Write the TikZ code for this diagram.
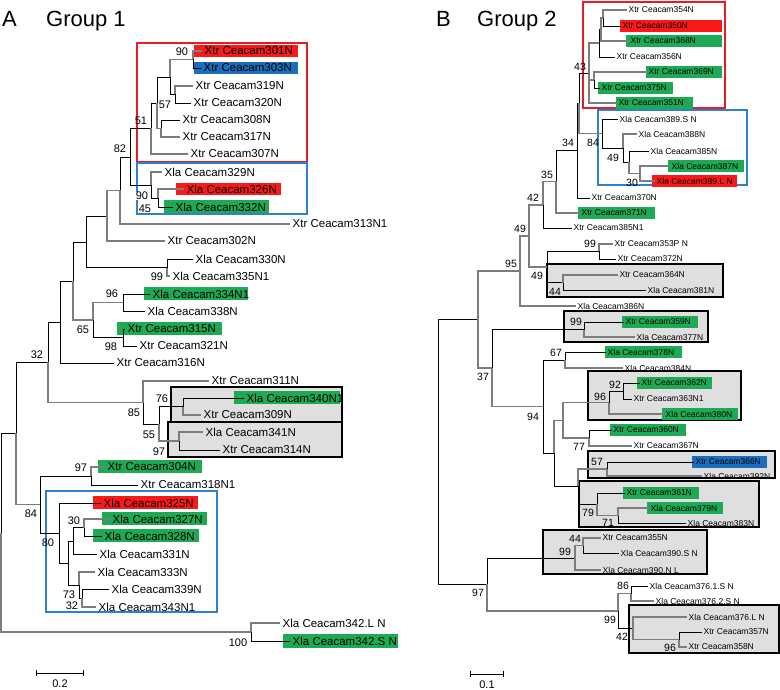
\documentclass[tikz,border=0pt]{standalone}
\usepackage{fontspec}
\setmainfont{Liberation Sans}
\definecolor{boxred}{RGB}{228,30,36}
\definecolor{boxblue}{RGB}{45,130,205}
\definecolor{hlred}{RGB}{250,25,25}
\definecolor{hlblue}{RGB}{25,110,190}
\definecolor{hlgreen}{RGB}{30,170,85}
\definecolor{brgray}{RGB}{125,125,125}
\tikzset{
  br/.style={draw=black, line width=0.85pt},
  gbr/.style={draw=brgray, line width=1.1pt},
  leafA/.style={anchor=west, inner sep=2.5pt, font=\fontsize{11.5}{12}\selectfont},
  leafB/.style={anchor=west, inner sep=2pt, font=\fontsize{8.5}{9}\selectfont},
  bsA/.style={inner sep=0.5pt, font=\fontsize{11}{12}\selectfont},
  bsB/.style={inner sep=0.5pt, font=\fontsize{10.5}{11}\selectfont},
  redbox/.style={draw=boxred, line width=2pt},
  bluebox/.style={draw=boxblue, line width=2pt},
  greybox/.style={draw=black, fill=gray!25, line width=1.8pt},
  title/.style={anchor=base west, inner sep=0pt, font=\fontsize{22}{24}\selectfont}
}
\begin{document}
\begin{tikzpicture}[x=1pt, y=-1pt]
\useasboundingbox (0,0) rectangle (780,690);
% titles
\node[title] (tA) at (2,27) {A};
\node[title] (tG1) at (46,27) {Group 1};
\node[title] (tB) at (436,27) {B};
\node[title] (tG2) at (477,27) {Group 2};
% boxes, group 1
\draw[redbox] (137,43) rectangle (307,162);
\draw[bluebox] (137,163) rectangle (307,214);
\draw[greybox] (171,387) rectangle (342,422);
\draw[greybox] (168,422) rectangle (342,457);
\draw[bluebox] (46,491) rectangle (217,612);
% boxes, group 2
\draw[redbox] (583,2) rectangle (725,108);
\draw[bluebox] (598,110) rectangle (747,185);
\draw[greybox] (547,264) rectangle (723,297);
\draw[greybox] (564,311) rectangle (708,342);
\draw[greybox] (588,371) rectangle (741,420);
\draw[greybox] (588,451) rectangle (775,478);
\draw[greybox] (579,481) rectangle (759,527);
\draw[greybox] (543,530) rectangle (707,574);
\draw[greybox] (629,605) rectangle (779,653);
% highlights, group 1
\fill[hlred] (194,45) rectangle (298,57);
\fill[hlblue] (194,62) rectangle (298,74);
\fill[hlred] (176,183) rectangle (281,195);
\fill[hlgreen] (164,200) rectangle (269,213);
\fill[hlgreen] (144,287) rectangle (248,300);
\fill[hlgreen] (117,322) rectangle (222,335);
\fill[hlgreen] (234,391) rectangle (340,404);
\fill[hlgreen] (98,460) rectangle (202,473);
\fill[hlred] (93,496) rectangle (198,509);
\fill[hlgreen] (102,512) rectangle (207,525);
\fill[hlgreen] (93,529) rectangle (199,542);
\fill[hlgreen] (283,634) rectangle (398,648);
% highlights, group 2
\fill[hlred] (620,20) rectangle (722,32);
\fill[hlgreen] (626,35) rectangle (722,47);
\fill[hlgreen] (646,66) rectangle (722,78);
\fill[hlgreen] (598,82) rectangle (673,94);
\fill[hlgreen] (616,97) rectangle (693,109);
\fill[hlgreen] (668,160) rectangle (744,172);
\fill[hlred] (652,175) rectangle (737,187);
\fill[hlgreen] (578,207) rectangle (655,219);
\fill[hlgreen] (622,316) rectangle (698,328);
\fill[hlgreen] (605,346) rectangle (682,358);
\fill[hlgreen] (637,377) rectangle (712,389);
\fill[hlgreen] (662,408) rectangle (738,420);
\fill[hlgreen] (610,424) rectangle (686,436);
\fill[hlblue] (692,456) rectangle (767,468);
\fill[hlgreen] (623,487) rectangle (699,499);
\fill[hlgreen] (647,502) rectangle (723,514);
% leaves, group 1
\node[leafA] (l301) at (202,51) {Xtr Ceacam301N};
\node[leafA] (l303) at (201,68) {Xtr Ceacam303N};
\node[leafA] (l319) at (193,86) {Xtr Ceacam319N};
\node[leafA] (l320) at (191,103) {Xtr Ceacam320N};
\node[leafA] (l308) at (180,120) {Xtr Ceacam308N};
\node[leafA] (l317) at (180,137) {Xtr Ceacam317N};
\node[leafA] (l307) at (188,154) {Xtr Ceacam307N};
\node[leafA] (l329) at (162,172) {Xla Ceacam329N};
\node[leafA] (l326) at (184,189) {Xla Ceacam326N};
\node[leafA] (l332) at (173,207) {Xla Ceacam332N};
\node[leafA] (l313) at (290,224) {Xtr Ceacam313N1};
\node[leafA] (l302) at (165,241) {Xtr Ceacam302N};
\node[leafA] (l330) at (193,259) {Xla Ceacam330N};
\node[leafA] (l335) at (170,276) {Xla Ceacam335N1};
\node[leafA] (l334) at (150,294) {Xla Ceacam334N1};
\node[leafA] (l338) at (145,311) {Xla Ceacam338N};
\node[leafA] (l315) at (125,329) {Xtr Ceacam315N};
\node[leafA] (l321) at (137,346) {Xtr Ceacam321N};
\node[leafA] (l316) at (114,363) {Xtr Ceacam316N};
\node[leafA] (l311) at (209,381) {Xtr Ceacam311N};
\node[leafA] (l340) at (244,398) {Xla Ceacam340N1};
\node[leafA] (l309) at (201,415) {Xtr Ceacam309N};
\node[leafA] (l341) at (203,432) {Xla Ceacam341N};
\node[leafA] (l314) at (220,450) {Xtr Ceacam314N};
\node[leafA] (l304) at (105,467) {Xtr Ceacam304N};
\node[leafA] (l318) at (138,485) {Xtr Ceacam318N1};
\node[leafA] (l325) at (101,503) {Xla Ceacam325N};
\node[leafA] (l327) at (110,519) {Xla Ceacam327N};
\node[leafA] (l328) at (102,536) {Xla Ceacam328N};
\node[leafA] (l331) at (97,554) {Xla Ceacam331N};
\node[leafA] (l333) at (95,572) {Xla Ceacam333N};
\node[leafA] (l339) at (109,589) {Xla Ceacam339N};
\node[leafA] (l343) at (96,607) {Xla Ceacam343N1};
\node[leafA] (l342L) at (280,623) {Xla Ceacam342.L N};
\node[leafA] (l342S) at (290,641) {Xla Ceacam342.S N};
% leaves, group 2
\node[leafB] (r354) at (626.5,10) {Xtr Ceacam354N};
\node[leafB] (r350) at (620.5,26) {Xtr Ceacam350N};
\node[leafB] (r368) at (628.5,41) {Xtr Ceacam368N};
\node[leafB] (r356) at (614.5,57) {Xtr Ceacam356N};
\node[leafB] (r369) at (646.5,72) {Xtr Ceacam369N};
\node[leafB] (r375) at (599.5,88) {Xtr Ceacam375N};
\node[leafB] (r351) at (616.5,103) {Xtr Ceacam351N};
\node[leafB] (r389S) at (617.5,119) {Xla Ceacam389.S N};
\node[leafB] (r388) at (636.5,134) {Xla Ceacam388N};
\node[leafB] (r385) at (648.5,151) {Xla Ceacam385N};
\node[leafB] (r387) at (669.5,166) {Xla Ceacam387N};
\node[leafB] (r389L) at (654.5,181) {Xla Ceacam389.L N};
\node[leafB] (r370) at (589.5,198) {Xtr Ceacam370N};
\node[leafB] (r371) at (579.5,213) {Xtr Ceacam371N};
\node[leafB] (r385N) at (571.5,228) {Xtr Ceacam385N1};
\node[leafB] (r353) at (612.5,244) {Xtr Ceacam353P N};
\node[leafB] (r372) at (615.5,259) {Xtr Ceacam372N};
\node[leafB] (r364) at (617.5,275) {Xtr Ceacam364N};
\node[leafB] (r381) at (645.5,290) {Xla Ceacam381N};
\node[leafB] (r386) at (575.5,306) {Xla Ceacam386N};
\node[leafB] (r359) at (623.5,322) {Xtr Ceacam359N};
\node[leafB] (r377) at (634.5,337) {Xla Ceacam377N};
\node[leafB] (r378) at (605.5,352) {Xla Ceacam378N};
\node[leafB] (r384) at (622.5,368) {Xla Ceacam384N};
\node[leafB] (r362) at (639.5,383) {Xtr Ceacam362N};
\node[leafB] (r363) at (631.5,399) {Xtr Ceacam363N1};
\node[leafB] (r380) at (663.5,414) {Xla Ceacam380N};
\node[leafB] (r360) at (611.5,430) {Xtr Ceacam360N};
\node[leafB] (r367) at (631.5,446) {Xtr Ceacam367N};
\node[leafB] (r366) at (693.5,462) {Xtr Ceacam366N};
\node[leafB] (r392) at (701.5,476) {Xla Ceacam392N};
\node[leafB] (r361) at (624.5,493) {Xtr Ceacam361N};
\node[leafB] (r379) at (648.5,508) {Xla Ceacam379N};
\node[leafB] (r383) at (685.5,523) {Xla Ceacam383N};
\node[leafB] (r355) at (600.5,538) {Xtr Ceacam355N};
\node[leafB] (r390S) at (618.5,553) {Xla Ceacam390.S N};
\node[leafB] (r390L) at (600.5,570) {Xla Ceacam390.N L};
\node[leafB] (r3761) at (647.5,586) {Xla Ceacam376.1.S N};
\node[leafB] (r3762) at (653.5,601) {Xla Ceacam376.2.S N};
\node[leafB] (r376L) at (686.5,617) {Xla Ceacam376.L N};
\node[leafB] (r357) at (701.5,632) {Xtr Ceacam357N};
\node[leafB] (r358) at (686.5,647) {Xtr Ceacam358N};
% inner nodes, group 1
\coordinate (a1) at (1,532.5);
\coordinate (a16) at (16,433);
\coordinate (a48) at (48,362);
\coordinate (a60) at (60,322);
\coordinate (a73) at (73,281);
\coordinate (a86) at (86,242);
\coordinate (a107) at (107,216);
\coordinate (a120) at (120,190.5);
\coordinate (a130) at (130,157);
\coordinate (a151) at (151,128.5);
\coordinate (a157) at (157,103);
\coordinate (a170) at (170,77);
\coordinate (a193) at (193,59.5);
\coordinate (a175) at (175,94.5);
\coordinate (a161) at (161,128.5);
\coordinate (a151b) at (151,185);
\coordinate (a158) at (158,198);
\coordinate (a167) at (167,267.5);
\coordinate (a93) at (93,320);
\coordinate (a123) at (123,302.5);
\coordinate (a123b) at (123,337.5);
\coordinate (a143) at (143,402.5);
\coordinate (a159) at (159,424);
\coordinate (a183) at (183,406.5);
\coordinate (a179) at (179,441);
\coordinate (a40) at (40,504.5);
\coordinate (a91) at (91,476);
\coordinate (a59) at (59,533);
\coordinate (a68) at (68,563);
\coordinate (a73b) at (73,541);
\coordinate (a84) at (84,527.5);
\coordinate (a79) at (79,585);
\coordinate (a82) at (82,598);
\coordinate (a251) at (251,632);
% inner nodes, group 2
\coordinate (m438) at (438,451.5);
\coordinate (m478) at (478,319.5);
\coordinate (m520) at (520,271);
\coordinate (m529) at (529,236);
\coordinate (m543) at (543,205);
\coordinate (m556) at (556,181.5);
\coordinate (m577) at (577,150);
\coordinate (m579) at (579,103);
\coordinate (m589) at (589,73);
\coordinate (m599) at (599,43);
\coordinate (m601) at (601,29.5);
\coordinate (m603) at (603,18);
\coordinate (m594) at (594,80);
\coordinate (m602) at (602,133.5);
\coordinate (m623) at (623,148);
\coordinate (m629) at (629,162);
\coordinate (m640) at (640,173.5);
\coordinate (m547) at (547,267);
\coordinate (m599b) at (599,251.5);
\coordinate (m563) at (563,282.5);
\coordinate (m492) at (492,368);
\coordinate (m584) at (584,329.5);
\coordinate (m543b) at (543,406.5);
\coordinate (m565) at (565,360);
\coordinate (m554) at (554,453);
\coordinate (m563b) at (563,420.5);
\coordinate (m609) at (609,402.5);
\coordinate (m623b) at (623,391);
\coordinate (m589b) at (589,438);
\coordinate (m578) at (578,486);
\coordinate (m607) at (607,469);
\coordinate (m597) at (597,504);
\coordinate (m618) at (618,515.5);
\coordinate (m487) at (487,584);
\coordinate (m575) at (575,558);
\coordinate (m583) at (583,545.5);
\coordinate (m618b) at (618,611);
\coordinate (m631) at (631,593.5);
\coordinate (m633) at (633,628);
\coordinate (m679) at (679,639.5);
% branches, group 1
\draw[br] (a193) |- (l303.west) (a170) |- (a175) (a175) |- (l320.west)
  (a157) |- (a170) (a161) |- (l308.west) (a151) |- (a157) (a130) |- (a151)
  (a130) |- (a151b) (a151b) |- (a158) (a158) |- (l332.west) (a120) |- (a130)
  (a86) |- (a107) (a86) |- (a167) (a167) |- (l330.west) (a73) |- (a86)
  (a93) |- (a123b) (a123) |- (l334.west) (a123) |- (l338.west) (a123b) |- (l315.west)
  (a123b) |- (l321.west) (a60) |- (a73) (a60) |- (l316.west) (a48) |- (a60)
  (a143) |- (a159) (a159) |- (a183) (a183) |- (l340.west) (a179) |- (l314.west)
  (a16) |- (a48) (a40) |- (a91) (a40) |- (a59) (a91) |- (l318.west)
  (a59) |- (l325.west) (a59) |- (a68) (a68) |- (a73b) (a68) |- (a79)
  (a73b) |- (a84) (a73b) |- (l331.west) (a84) |- (l328.west) (a79) |- (a82)
  (a82) |- (l339.west) (a1) |- (a16) (a251) |- (l342S.west);
\draw[gbr] (a193) |- (l301.west) (a170) |- (a193) (a175) |- (l319.west)
  (a157) |- (a161) (a161) |- (l317.west) (a151) |- (l307.west)
  (a151b) |- (l329.west) (a158) |- (l326.west) (a120) |- (l313.west)
  (a107) |- (a120) (a107) |- (l302.west) (a167) |- (l335.west) (a73) |- (a93)
  (a93) |- (a123) (a48) |- (a143) (a143) |- (l311.west) (a159) |- (a179)
  (a183) |- (l309.west) (a179) |- (l341.west) (a16) |- (a40) (a91) |- (l304.west)
  (a84) |- (l327.west) (a79) |- (l333.west) (a82) |- (l343.west)
  (a1) |- (a251) (a251) |- (l342L.west);
% branches, group 2
\draw[br] (m603) |- (r350.west) (m599) |- (m601) (m599) |- (r356.west)
  (m594) |- (r375.west) (m579) |- (m589) (m602) |- (r389S.west) (m602) |- (m623)
  (m623) |- (m629) (m629) |- (r385.west) (m577) |- (m579) (m577) |- (r370.west)
  (m556) |- (m577) (m543) |- (r385N.west) (m547) |- (m599b) (m547) |- (m563)
  (m599b) |- (r372.west) (m563) |- (r381.west) (m492) |- (m584) (m584) |- (r359.west)
  (m543b) |- (m565) (m543b) |- (m554) (m565) |- (r378.west) (m554) |- (m578)
  (m609) |- (m623b) (m623b) |- (r362.west) (m623b) |- (r363.west) (m589b) |- (r360.west)
  (m578) |- (m597) (m607) |- (r366.west) (m597) |- (r361.west) (m618) |- (r383.west)
  (m438) |- (m478) (m438) |- (m487) (m487) |- (m575) (m583) |- (r390S.west)
  (m618b) |- (m633) (m631) |- (r3761.west) (m679) |- (r357.west);
\draw[gbr] (m603) |- (r354.west) (m601) |- (m603) (m601) |- (r368.west)
  (m594) |- (r369.west) (m589) |- (m599) (m589) |- (m594) (m589) |- (r351.west)
  (m579) |- (m602) (m623) |- (r388.west) (m629) |- (m640) (m640) |- (r387.west)
  (m640) |- (r389L.west) (m556) |- (r371.west) (m543) |- (m556) (m529) |- (m543)
  (m529) |- (m547) (m599b) |- (r353.west) (m563) |- (r364.west) (m520) |- (m529)
  (m520) |- (r386.west) (m478) |- (m520) (m478) |- (m492) (m492) |- (m543b)
  (m584) |- (r377.west) (m565) |- (r384.west) (m554) |- (m563b) (m563b) |- (m609)
  (m563b) |- (m589b) (m609) |- (r380.west) (m589b) |- (r367.west) (m578) |- (m607)
  (m607) |- (r392.west) (m597) |- (m618) (m618) |- (r379.west) (m487) |- (m618b)
  (m575) |- (m583) (m575) |- (r390L.west) (m583) |- (r355.west) (m618b) |- (m631)
  (m631) |- (r3762.west) (m633) |- (r376L.west) (m633) |- (m679) (m679) |- (r358.west);
% bootstrap values, group 1
\foreach \v/\x/\y [count=\i] in {90/182/52, 57/165/105, 51/141/121, 82/120/149,
    99/157/277, 96/112/294, 65/83/330, 98/111/347, 32/37/355, 76/162/399,
    85/134/413, 55/149/435, 97/159/452, 97/81/468, 84/31/514, 80/48/543,
    30/74/521, 73/69/595, 32/72/606, 100/238/643}
  \node[bsA] (sA\i) at (\x,\y) {\v};
\node[bsA, fill=white] (sA90) at (142,196) {90};
\node[bsA, fill=white] (sA45) at (145,209) {45};
% bootstrap values, group 2
\foreach \v/\x/\y [count=\i] in {43/580/67, 84/593/143, 34/568/143, 49/613/158,
    30/632/183, 35/547/175, 42/533/198, 49/520/229, 99/590/244, 49/537/276,
    44/555/292, 95/511/264, 99/576/322, 37/483/377, 67/556/353, 94/533/417,
    92/615/385, 96/600/397, 77/579/447, 57/597/462, 79/588/513, 71/608/523,
    44/575/539, 99/565/552, 97/478/593, 86/623/586, 99/610/620, 42/622/637,
    96/670/648}
  \node[bsB] (sB\i) at (\x,\y) {\v};
% scale bars
\coordinate (sc1) at (36,673);
\coordinate (sc2) at (83,673);
\draw[br] (sc1) -- (sc2) (sc1) ++(0,-3) -- ++(0,6) (sc2) ++(0,-3) -- ++(0,6);
\node[bsA] (scA) at (60,684) {0.2};
\coordinate (sc3) at (470,674);
\coordinate (sc4) at (503,674);
\draw[br] (sc3) -- (sc4) (sc3) ++(0,-3) -- ++(0,6) (sc4) ++(0,-3) -- ++(0,6);
\node[bsA] (scB) at (487,685) {0.1};
\end{tikzpicture}
\end{document}
